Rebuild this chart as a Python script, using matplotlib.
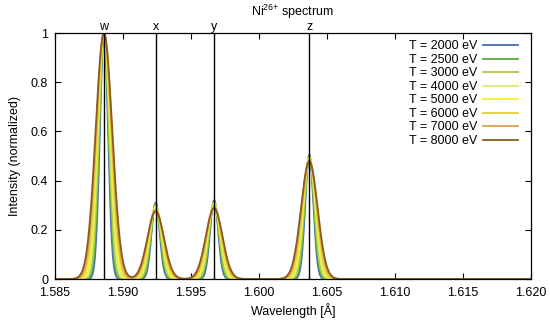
import numpy as np
import matplotlib
matplotlib.use("Agg")
import matplotlib.pyplot as plt

plt.rcParams['font.family'] = ['Liberation Sans', 'DejaVu Sans']
plt.rcParams['mathtext.fontset'] = 'custom'
plt.rcParams['mathtext.rm'] = 'Liberation Sans'

# Data
temperatures = [2000, 2500, 3000, 4000, 5000, 6000, 7000, 8000]  # eV
line_names = ['w', 'x', 'y', 'z']
line_centers = [1.5886, 1.5924, 1.5967, 1.6037]  # Angstrom
# peak heights (normalized) per temperature for w, x, y, z
w_heights = [1.0, 1.0, 1.0, 1.0, 1.0, 1.0, 1.0, 1.0]
x_heights = [0.31, 0.305, 0.30, 0.295, 0.29, 0.285, 0.28, 0.275]
y_heights = [0.32, 0.316, 0.312, 0.307, 0.302, 0.297, 0.292, 0.288]
z_heights = [0.505, 0.50, 0.497, 0.493, 0.489, 0.485, 0.481, 0.478]
# Gaussian sigma of each profile (mA) per temperature
sigma_mA = [0.30, 0.34, 0.37, 0.43, 0.48, 0.53, 0.57, 0.61]
colors = ['#4a6eb4', '#5aa83a', '#a8d040', '#d8ee70', '#f2f030',
          '#e8cc38', '#e0a050', '#8a5a20']

xticks = [1.585, 1.590, 1.595, 1.600, 1.605, 1.610, 1.615, 1.620]
yticks = [0, 0.2, 0.4, 0.6, 0.8, 1.0]
ytick_labels = ['0', '0.2', '0.4', '0.6', '0.8', '1']

FS = 9

fig = plt.figure(figsize=(5.5, 3.26), dpi=100)
fig.subplots_adjust(left=55/550, right=531/550, bottom=1-279/326, top=1-33/326)
ax = fig.add_subplot(111)

lam = np.linspace(1.585, 1.620, 4000)
heights = [w_heights, x_heights, y_heights, z_heights]
for i, T in enumerate(temperatures):
    s = sigma_mA[i] * 1e-3
    prof = np.zeros_like(lam)
    for c, h in zip(line_centers, heights):
        prof += h[i] * np.exp(-0.5 * ((lam - c) / s) ** 2)
    ax.plot(lam, prof, color=colors[i], lw=1.3, label=f'T = {T} eV')

for c in line_centers:
    ax.axvline(c, color='black', lw=1.0, zorder=5)

ax.set_xlim(1.585, 1.620)
ax.set_ylim(0, 1)
ax.set_xticks(xticks)
ax.set_xticklabels([f'{v:.3f}' for v in xticks])
ax.set_yticks(yticks)
ax.set_yticklabels(ytick_labels)
ax.tick_params(direction='in', top=True, right=True, length=4, width=0.8,
               labelsize=FS)
ax.tick_params(axis='x', pad=6)
ax.tick_params(axis='y', pad=5)
for sp in ax.spines.values():
    sp.set_linewidth(0.9)

sec = ax.secondary_xaxis('top')
sec.set_xticks(line_centers)
sec.set_xticklabels(line_names)
sec.tick_params(length=0, labelsize=FS, pad=0)
sec.spines['top'].set_visible(False)

ax.set_xlabel('Wavelength [Å]', fontsize=FS, labelpad=3)
ax.set_ylabel('Intensity (normalized)', fontsize=FS, labelpad=7)
fig.text(293/550, 1-12/326, r'Ni$^{\mathrm{26{+}}}$ spectrum', ha='center',
         va='center', fontsize=FS)

leg = ax.legend(loc='upper right', bbox_to_anchor=(0.973, 0.970), frameon=False,
                markerfirst=False, fontsize=FS, handlelength=2.8,
                handletextpad=0.5, labelspacing=0.12, borderpad=0, borderaxespad=0)

fig.savefig('out.png', dpi=100)
